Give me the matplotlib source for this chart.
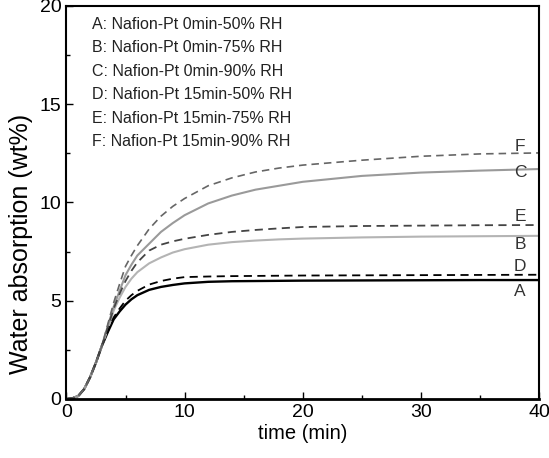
import numpy as np
import matplotlib
matplotlib.use('Agg')
import matplotlib.pyplot as plt
from matplotlib.ticker import MultipleLocator

plt.rcParams['font.family'] = ['Liberation Sans', 'DejaVu Sans']

# time points (min) and water absorption (wt%)
time = [0, 0.5, 1, 1.5, 2, 2.5, 3, 3.5, 4, 4.5, 5, 5.5, 6, 7, 8, 9, 10,
        12, 14, 16, 18, 20, 25, 30, 35, 40]
start = [0, 0.03, 0.15, 0.5, 1.1, 1.85, 2.7]
curve_A = start + [3.4, 4.05, 4.45, 4.8, 5.07, 5.28, 5.55, 5.7, 5.8, 5.88,
                   5.96, 5.99, 6.0, 6.01, 6.02, 6.03, 6.04, 6.05, 6.05]
curve_B = start + [3.55, 4.5, 5.15, 5.7, 6.12, 6.45, 6.9, 7.2, 7.45, 7.62,
                   7.85, 7.98, 8.06, 8.12, 8.16, 8.22, 8.26, 8.28, 8.3]
curve_C = start + [3.7, 4.7, 5.5, 6.3, 6.83, 7.3, 7.9, 8.5, 8.95, 9.35,
                   9.95, 10.35, 10.65, 10.85, 11.05, 11.35, 11.52, 11.62, 11.7]
curve_D = start + [3.45, 4.15, 4.6, 5.0, 5.28, 5.5, 5.82, 6.0, 6.12, 6.2,
                   6.23, 6.25, 6.26, 6.27, 6.28, 6.29, 6.3, 6.31, 6.32]
curve_E = start + [3.65, 4.6, 5.35, 6.0, 6.52, 6.95, 7.55, 7.85, 8.02, 8.15,
                   8.35, 8.5, 8.6, 8.68, 8.75, 8.8, 8.82, 8.84, 8.85]
curve_F = start + [3.8, 4.9, 5.85, 6.75, 7.3, 7.8, 8.65, 9.3, 9.8, 10.2,
                   10.85, 11.25, 11.55, 11.75, 11.9, 12.15, 12.35, 12.47, 12.52]

letters = ['A', 'B', 'C', 'D', 'E', 'F']
legend_lines = ['A: Nafion-Pt 0min-50% RH',
                'B: Nafion-Pt 0min-75% RH',
                'C: Nafion-Pt 0min-90% RH',
                'D: Nafion-Pt 15min-50% RH',
                'E: Nafion-Pt 15min-75% RH',
                'F: Nafion-Pt 15min-90% RH']
# where the letter tags sit (y in data units)
tag_y = [5.46, 7.86, 11.53, 6.73, 9.29, 12.86]

curves = [curve_A, curve_B, curve_C, curve_D, curve_E, curve_F]
styles = [dict(color='black', ls='-', lw=1.7),
          dict(color='#b4b4b4', ls='-', lw=1.5),
          dict(color='#9a9a9a', ls='-', lw=1.5),
          dict(color='black', ls=(0, (4.5, 3)), lw=1.3),
          dict(color='#444444', ls=(0, (4.5, 3)), lw=1.3),
          dict(color='#666666', ls=(0, (4.5, 3)), lw=1.2)]

fig = plt.figure(figsize=(5.49, 4.58), dpi=100)
ax = fig.add_axes([0.121, 0.129, 0.861, 0.858])

for y, st in zip(curves, styles):
    ax.plot(time, y, **st)

for lab, ty in zip(letters, tag_y):
    ax.text(38.4, ty, lab, fontsize=12.5, color='#333333', ha='center', va='center')

for i, txt in enumerate(legend_lines):
    ax.text(2.2, 19.08 - i * 1.2, txt, fontsize=11.5, color='#222222', va='center')

ax.set_xlim(0, 40)
ax.set_ylim(0, 20)
ax.xaxis.set_major_locator(MultipleLocator(10))
ax.xaxis.set_minor_locator(MultipleLocator(5))
ax.yaxis.set_major_locator(MultipleLocator(5))
ax.yaxis.set_minor_locator(MultipleLocator(2.5))
ax.tick_params(which='both', direction='in', labelsize=14)
ax.tick_params(which='major', length=5, width=1)
ax.tick_params(which='minor', length=3, width=1)
for sp in ax.spines.values():
    sp.set_linewidth(1.5)
ax.spines['bottom'].set_linewidth(2)

ax.set_xlabel('time (min)', fontsize=14.5, labelpad=2)
ax.set_ylabel('Water absorption (wt%)', fontsize=18)
ax.yaxis.set_label_coords(-0.07, 0.395)

fig.savefig('out.png', dpi=100)
